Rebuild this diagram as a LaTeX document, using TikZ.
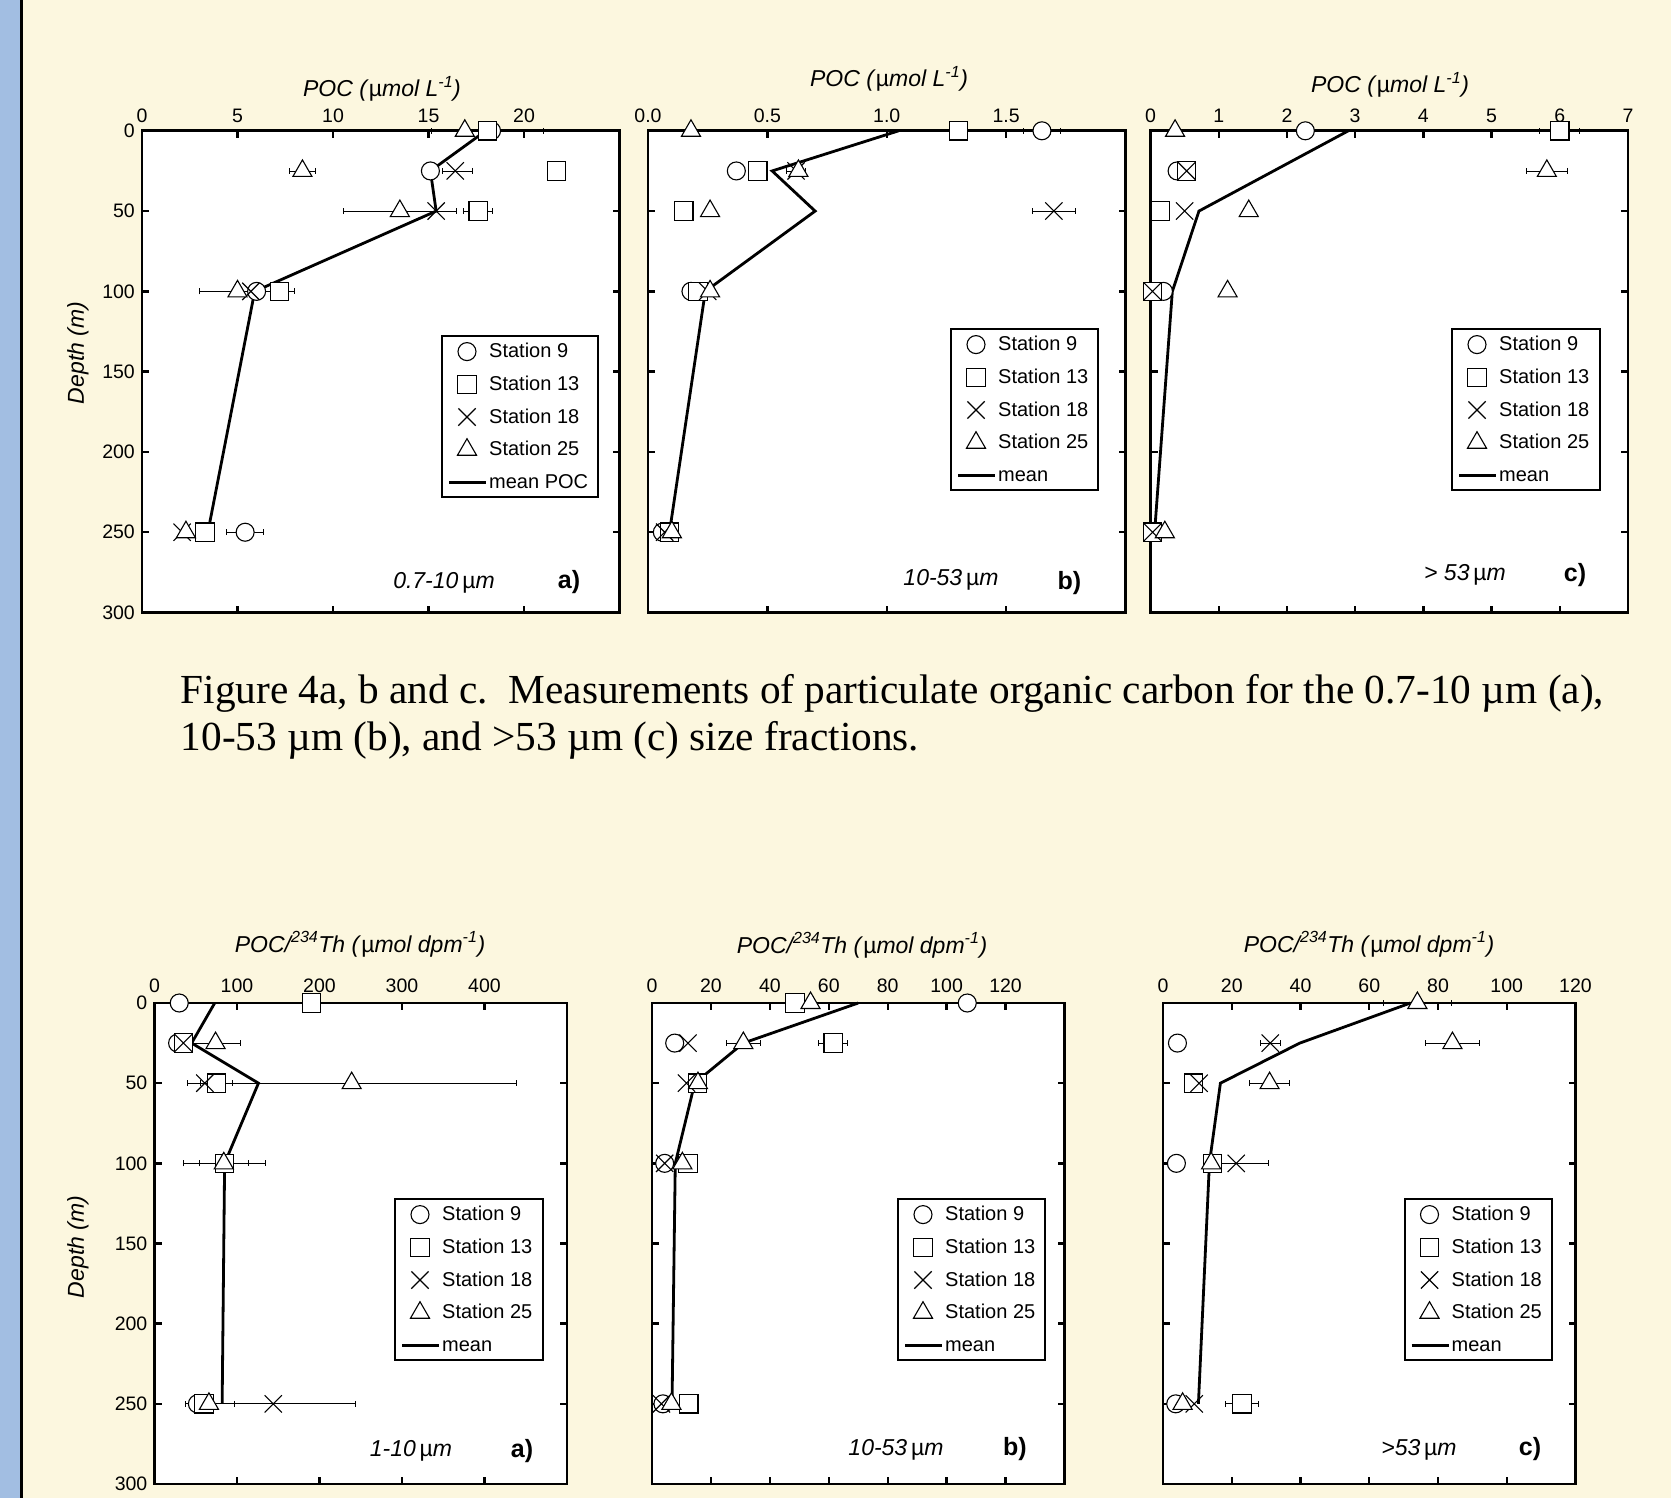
\documentclass[tikz,border=0pt]{standalone}
\usepackage{fontspec}
\setmainfont{Liberation Sans}
\newfontfamily\capfont{Liberation Serif}
\usepackage{tikz}
\usetikzlibrary{positioning,arrows.meta,plotmarks}
\definecolor{cream}{RGB}{252,247,223}
\definecolor{sidebar}{RGB}{162,190,226}
\tikzstyle{frame} = [draw, fill=white, line width=2.8pt]
\tikzstyle{tick} = [line width=2.4pt]
\tikzstyle{xlab} = [inner sep=0, above=8pt, font=\fontsize{19.5}{20}\selectfont]
\tikzstyle{ylab} = [inner sep=0, left=7pt, font=\fontsize{19.5}{20}\selectfont]
\tikzstyle{axtitle} = [inner sep=0, anchor=base, font=\fontsize{23}{24}\selectfont\itshape]
\tikzstyle{sizelab} = [inner sep=0, anchor=base, font=\fontsize{23}{24}\selectfont\itshape]
\tikzstyle{panel} = [inner sep=0, anchor=base, font=\fontsize{25}{26}\selectfont\bfseries]
\tikzstyle{caption} = [inner sep=0, anchor=base west, font=\capfont\fontsize{41.3}{46}\selectfont]
\tikzstyle{meanline} = [draw, line width=2.8pt]
\tikzstyle{ebar} = [draw, line width=0.8pt, {Bar[width=6pt]}-{Bar[width=6pt]}]
\tikzstyle{mk} = [only marks, mark options={fill=white, line width=1.1pt, solid}]
\tikzstyle{st9} = [mk, mark=*, mark size=9pt]
\tikzstyle{st13} = [mk, mark=square*, mark size=9.2pt]
\tikzstyle{st18} = [mk, mark=x, mark size=12.2pt]
\tikzstyle{st25} = [mk, mark=triangle*, mark size=11pt]
\tikzstyle{keybox} = [draw, fill=white, line width=2.4pt, minimum height=161pt, inner sep=0, anchor=north west]
\tikzstyle{keytext} = [inner sep=0, minimum height=32.3pt, text height=16pt, text depth=4pt, font=\fontsize{20}{21}\selectfont]
% legend: name, x, y (top left), width, mean label
\newcommand{\stationkey}[5]{%
  \node[keybox, minimum width=#4pt] (#1) at (#2,#3) {};
  \node[keytext, anchor=west] (#1-9) at ([xshift=48pt,yshift=-16.6pt]#1.north west) {Station 9};
  \node[keytext, below=0pt of #1-9.south west, anchor=north west] (#1-13) {Station 13};
  \node[keytext, below=0pt of #1-13.south west, anchor=north west] (#1-18) {Station 18};
  \node[keytext, below=0pt of #1-18.south west, anchor=north west] (#1-25) {Station 25};
  \node[keytext, below=0pt of #1-25.south west, anchor=north west] (#1-mean) {#5};
  \draw[st9] plot coordinates {([xshift=-22pt]#1-9.west)};
  \draw[st13] plot coordinates {([xshift=-22pt]#1-13.west)};
  \draw[st18] plot coordinates {([xshift=-22pt]#1-18.west)};
  \draw[st25] plot coordinates {([xshift=-22pt]#1-25.west)};
  \draw[meanline] ([xshift=-40pt]#1-mean.west) -- ([xshift=-3pt]#1-mean.west);
}
\begin{document}
\begin{tikzpicture}[x=1pt, y=-1pt]
  \useasboundingbox (0,0) rectangle (1671,1498);
  \fill[cream] (0,0) rectangle (1671,1498);
  \fill[sidebar] (0,0) rectangle (20,1498);
  \draw[line width=3pt] (21.5,0) -- (21.5,1498);
  % POC, 0.7-10 um
  \begin{scope}[shift={(142,130.8)}, x=19.1pt, y=-1.6057pt]
    \draw[frame] (0,0) rectangle (25,300);
    \foreach \t in {5,10,...,20} \draw[tick] (\t,0) -- ++(0,-7pt) (\t,300) -- ++(0,7pt);
    \foreach \d in {50,100,...,250} \draw[tick] (0,\d) -- ++(7pt,0) (25,\d) -- ++(-7pt,0);
    \foreach \t [count=\i] in {0,5,...,20} \node[xlab] (ta-x\i) at (\t,0) {\t};
    \foreach \d [count=\i] in {0,50,...,300} \node[ylab] (ta-y\i) at (0,\d) {\d};
    \foreach \px/\py/\pe in {18.1/0/2.95, 8.4/25/0.7, 16.5/25/0.8, 13.5/50/3.0, 17.6/50/0.77, 5.0/100/2.0, 7.2/100/0.8, 5.4/250/1.0}
      \draw[ebar] (\px-\pe,\py) -- (\px+\pe,\py);
    \draw[meanline] (18.0,0) -- (15.1,25) -- (15.4,50) -- (5.9,100) -- (3.45,250);
    \draw[st9] plot coordinates {(18.3,0) (15.1,25) (6.0,100) (5.4,250)};
    \draw[st13] plot coordinates {(18.1,0) (21.7,25) (17.6,50) (7.2,100) (3.3,250)};
    \draw[st18] plot coordinates {(16.4,25) (15.4,50) (5.7,100) (2.1,250)};
    \draw[st25] plot coordinates {(16.9,0) (8.4,25) (13.5,50) (5.0,100) (2.3,250)};
  \end{scope}
  % POC, 10-53 um
  \begin{scope}[shift={(648,130.8)}, x=238.75pt, y=-1.6057pt]
    \draw[frame] (0,0) rectangle (2,300);
    \foreach \t in {0.5,1,1.5} \draw[tick] (\t,0) -- ++(0,-7pt) (\t,300) -- ++(0,7pt);
    \foreach \d in {50,100,...,250} \draw[tick] (0,\d) -- ++(7pt,0) (2,\d) -- ++(-7pt,0);
    \foreach \t/\s [count=\i] in {0/0.0, 0.5/0.5, 1/1.0, 1.5/1.5} \node[xlab] (tb-x\i) at (\t,0) {\s};
    \foreach \px/\py/\pe in {1.65/0/0.08, 0.62/25/0.04, 1.70/50/0.09}
      \draw[ebar] (\px-\pe,\py) -- (\px+\pe,\py);
    \draw[meanline] (1.05,0) -- (0.52,25) -- (0.70,50) -- (0.24,100) -- (0.09,250);
    \draw[st9] plot coordinates {(1.65,0) (0.37,25) (0.18,100) (0.06,250)};
    \draw[st13] plot coordinates {(1.30,0) (0.46,25) (0.15,50) (0.21,100) (0.09,250)};
    \draw[st18] plot coordinates {(0.62,25) (1.70,50) (0.25,100) (0.07,250)};
    \draw[st25] plot coordinates {(0.18,0) (0.63,25) (0.26,50) (0.26,100) (0.10,250)};
  \end{scope}
  % POC, > 53 um
  \begin{scope}[shift={(1150.5,130.8)}, x=68.214pt, y=-1.6057pt]
    \draw[frame] (0,0) rectangle (7,300);
    \foreach \t in {1,...,6} \draw[tick] (\t,0) -- ++(0,-7pt) (\t,300) -- ++(0,7pt);
    \foreach \d in {50,100,...,250} \draw[tick] (0,\d) -- ++(7pt,0) (7,\d) -- ++(-7pt,0);
    \foreach \t [count=\i] in {0,...,7} \node[xlab] (tc-x\i) at (\t,0) {\t};
    \foreach \px/\py/\pe in {6.0/0/0.3, 5.81/25/0.3}
      \draw[ebar] (\px-\pe,\py) -- (\px+\pe,\py);
    \draw[meanline] (2.9,0) -- (0.71,50) -- (0.32,100) -- (0.06,250);
    \draw[st9] plot coordinates {(2.27,0) (0.39,25) (0.19,100)};
    \draw[st13] plot coordinates {(6.0,0) (0.53,25) (0.15,50) (0.03,100) (0.03,250)};
    \draw[st18] plot coordinates {(0.53,25) (0.50,50) (0.03,100) (0.03,250)};
    \draw[st25] plot coordinates {(0.36,0) (5.81,25) (1.44,50) (1.13,100) (0.21,250)};
  \end{scope}
  % POC/Th, 1-10 um
  \begin{scope}[shift={(154.5,1003)}, x=0.825pt, y=-1.6033pt]
    \draw[frame] (0,0) rectangle (500,300);
    \foreach \t in {100,200,...,400} \draw[tick] (\t,0) -- ++(0,-7pt) (\t,300) -- ++(0,7pt);
    \foreach \d in {50,100,...,250} \draw[tick] (0,\d) -- ++(7pt,0) (500,\d) -- ++(-7pt,0);
    \foreach \t [count=\i] in {0,100,...,400} \node[xlab, yshift=2pt] (ba-x\i) at (\t,0) {\t};
    \foreach \d [count=\i] in {0,50,...,300} \node[ylab] (ba-y\i) at (0,\d) {\d};
    \foreach \px/\py/\pe in {74/25/31, 239/50/200, 75/50/20, 85/100/50, 84/100/30, 67/250/30, 144/250/100}
      \draw[ebar] (\px-\pe,\py) -- (\px+\pe,\py);
    \draw[meanline] (73,0) -- (45,25) -- (126,50) -- (85,100) -- (82,250);
    \draw[st9] plot coordinates {(30,0) (28,25) (52,250)};
    \draw[st13] plot coordinates {(190,0) (35,25) (75,50) (85,100) (60,250)};
    \draw[st18] plot coordinates {(35,25) (61,50) (144,250)};
    \draw[st25] plot coordinates {(74,25) (239,50) (84,100) (66,250)};
  \end{scope}
  % POC/Th, 10-53 um
  \begin{scope}[shift={(652,1003)}, x=2.9464pt, y=-1.6033pt]
    \draw[frame] (0,0) rectangle (140,300);
    \foreach \t in {20,40,...,120} \draw[tick] (\t,0) -- ++(0,-7pt) (\t,300) -- ++(0,7pt);
    \foreach \d in {50,100,...,250} \draw[tick] (0,\d) -- ++(7pt,0) (140,\d) -- ++(-7pt,0);
    \foreach \t [count=\i] in {0,20,...,120} \node[xlab, yshift=2pt] (bb-x\i) at (\t,0) {\t};
    \foreach \px/\py/\pe in {31/25/6, 61.5/25/5}
      \draw[ebar] (\px-\pe,\py) -- (\px+\pe,\py);
    \draw[meanline] (70,0) -- (31,25) -- (14.5,50) -- (7.9,100) -- (6.8,250);
    \draw[st9] plot coordinates {(107,0) (7.7,25) (4.3,100) (3.7,250)};
    \draw[st13] plot coordinates {(48.5,0) (61.5,25) (15.4,50) (12.2,100) (12.5,250)};
    \draw[st18] plot coordinates {(12.2,25) (11.7,50) (4.3,100) (3.2,250)};
    \draw[st25] plot coordinates {(53.8,0) (31,25) (15.6,50) (10.3,100) (6.6,250)};
  \end{scope}
  % POC/Th, >53 um
  \begin{scope}[shift={(1163,1003)}, x=3.4375pt, y=-1.6033pt]
    \draw[frame] (0,0) rectangle (120,300);
    \foreach \t in {20,40,...,100} \draw[tick] (\t,0) -- ++(0,-7pt) (\t,300) -- ++(0,7pt);
    \foreach \d in {50,100,...,250} \draw[tick] (0,\d) -- ++(7pt,0) (120,\d) -- ++(-7pt,0);
    \foreach \t [count=\i] in {0,20,...,120} \node[xlab, yshift=2pt] (bc-x\i) at (\t,0) {\t};
    \foreach \px/\py/\pe in {74/0/10, 31.2/25/3, 84.2/25/8, 31/50/6, 21.3/100/9.5, 23/250/5}
      \draw[ebar] (\px-\pe,\py) -- (\px+\pe,\py);
    \draw[meanline] (72,0) -- (39.8,25) -- (16.7,50) -- (13.5,100) -- (10.3,250);
    \draw[st9] plot coordinates {(4.2,25) (3.9,100) (3.7,250)};
    \draw[st13] plot coordinates {(8.8,50) (14.4,100) (23,250)};
    \draw[st18] plot coordinates {(31.2,25) (10.5,50) (21.3,100) (9.1,250)};
    \draw[st25] plot coordinates {(74,0) (84.2,25) (31,50) (14,100) (5.7,250)};
  \end{scope}
  % legends
  \stationkey{ka}{441}{335}{156}{mean POC}
  \stationkey{kb}{950}{328}{147}{mean}
  \stationkey{kc}{1451}{328}{147.5}{mean}
  \stationkey{kd}{394}{1198}{148}{mean}
  \stationkey{ke}{897}{1198}{147}{mean}
  \stationkey{kf}{1403.5}{1198}{147}{mean}
  % titles and labels
  \node[axtitle] (ta-title) at (382,97) {POC (\textup{µ}mol L\textsuperscript{-1})};
  \node[axtitle] (tb-title) at (889,87) {POC (\textup{µ}mol L\textsuperscript{-1})};
  \node[axtitle] (tc-title) at (1390,92.5) {POC (\textup{µ}mol L\textsuperscript{-1})};
  \node[axtitle] (ba-title) at (360,952) {POC/\textsuperscript{234}Th (\textup{µ}mol dpm\textsuperscript{-1})};
  \node[axtitle] (bb-title) at (862,953) {POC/\textsuperscript{234}Th (\textup{µ}mol dpm\textsuperscript{-1})};
  \node[axtitle] (bc-title) at (1369,952) {POC/\textsuperscript{234}Th (\textup{µ}mol dpm\textsuperscript{-1})};
  \node[axtitle, rotate=90, anchor=center] (ta-depth) at (78,353) {Depth (m)};
  \node[axtitle, rotate=90, anchor=center] (ba-depth) at (78,1247) {Depth (m)};
  \node[sizelab] (ta-size) at (444,588) {0.7-10\,\textup{µ}m};
  \node[sizelab] (tb-size) at (951,585.5) {10-53\,\textup{µ}m};
  \node[sizelab] (tc-size) at (1465,580.5) {> 53\,\textup{µ}m};
  \node[sizelab] (ba-size) at (411,1456.5) {1-10\,\textup{µ}m};
  \node[sizelab] (bb-size) at (896,1455) {10-53\,\textup{µ}m};
  \node[sizelab] (bc-size) at (1419,1455) {>53\,\textup{µ}m};
  \node[panel] (ta-tag) at (569,588) {a)};
  \node[panel] (tb-tag) at (1069.5,589.5) {b)};
  \node[panel] (tc-tag) at (1575,581) {c)};
  \node[panel] (ba-tag) at (522,1457) {a)};
  \node[panel] (bb-tag) at (1015,1455) {b)};
  \node[panel] (bc-tag) at (1530,1455) {c)};
  % caption
  \node[caption] (cap1) at (180.6,703) {Figure 4a, b and c.\ \ Measurements of particulate organic carbon for the 0.7-10 µm (a),};
  \node[caption] (cap2) at (180.6,750) {10-53 µm (b), and >53 µm (c) size fractions.};
\end{tikzpicture}
\end{document}
